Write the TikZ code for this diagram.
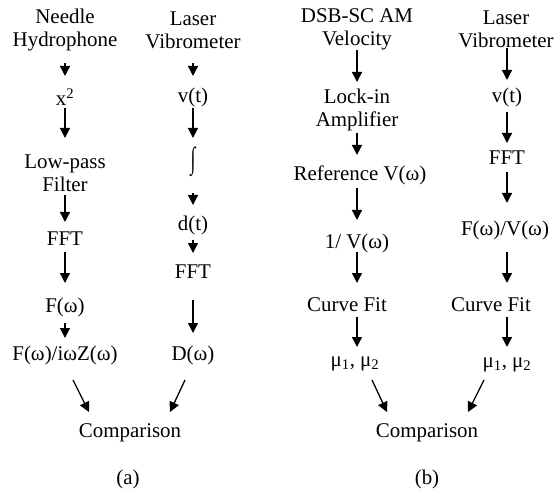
\documentclass[tikz,border=0pt]{standalone}
\usepackage{fontspec}
\usepackage{graphicx}
\setmainfont{Liberation Serif}
\usetikzlibrary{arrows.meta,calc}
\begin{document}
\begin{tikzpicture}[x=1bp,y=-1bp,
  lbl/.style={inner sep=0pt,align=center,font=\fontsize{21}{23}\selectfont},
  arr/.style={line width=1.3bp,-{Triangle[length=10bp,width=10bp]}}]
\useasboundingbox (0,0) rectangle (557,498);
% column reference points
\coordinate (cA) at (65,0);
\coordinate (cB) at (193,0);
\coordinate (cC) at (357,0);
\coordinate (cD) at (507,0);
% panel (a), left column
\node[lbl] (a1) at (65,30) {Needle\\Hydrophone};
\node[lbl] (a2) at (65,97) {x\textsuperscript{2}};
\node[lbl] (a3) at (65,173) {Low-pass\\Filter};
\node[lbl] (a4) at (65,239) {FFT};
\node[lbl] (a5) at (65,307) {F(ω)};
\node[lbl] (a6) at (65,355) {F(ω)/iωZ(ω)};
% panel (a), right column
\node[lbl] (b1) at (193,30) {Laser\\Vibrometer};
\node[lbl] (b2) at (193,97) {v(t)};
\node[lbl] (b3) at (193,162) {\scalebox{0.85}[1.45]{∫}};
\node[lbl] (b4) at (193,225) {d(t)};
\node[lbl] (b5) at (193,272) {FFT};
\node[lbl] (b6) at (193,355) {D(ω)};
\node[lbl] (ca) at (130,433) {Comparison};
\node[lbl] (la) at (128,479) {(a)};
% panel (b), left column
\node[lbl] (c1) at (357,29) {DSB-SC AM\\Velocity};
\node[lbl] (c2) at (357,110) {Lock-in\\Amplifier};
\node[lbl] (c3) at (360,175) {Reference V(ω)};
\node[lbl] (c4) at (357,243) {1/ V(ω)};
\node[lbl] (c5) at (347,305) {Curve Fit};
\node[lbl] (c6) at (355,364) {μ\textsubscript{1}, μ\textsubscript{2}};
% panel (b), right column
\node[lbl] (d1) at (506,29) {Laser\\Vibrometer};
\node[lbl] (d2) at (507,97) {v(t)};
\node[lbl] (d3) at (507,158) {FFT};
\node[lbl] (d4) at (505,230) {F(ω)/V(ω)};
\node[lbl] (d5) at (491,305) {Curve Fit};
\node[lbl] (d6) at (507,365) {μ\textsubscript{1}, μ\textsubscript{2}};
\node[lbl] (cb) at (427,433) {Comparison};
\node[lbl] (lb) at (427,479) {(b)};
% vertical arrows: from node #1 to node #2 along column #3, offsets #4 / #5 from the centres
\newcommand\varr[5]{\draw[arr] ($(#1.center -| #3)+(0,#4)$) -- ($(#2.center -| #3)+(0,#5)$);}
\varr{a1}{a2}{cA}{33}{-21}
\varr{a2}{a3}{cA}{11}{-35}
\varr{a3}{a4}{cA}{22}{-17}
\varr{a4}{a5}{cA}{13}{-24}
\varr{a5}{a6}{cA}{16}{-17}
\varr{b1}{b2}{cB}{33}{-21}
\varr{b2}{b3}{cB}{11}{-24}
\varr{b3}{b4}{cB}{31}{-20}
\varr{b4}{b5}{cB}{15}{-19}
\varr{b5}{b6}{cB}{28}{-22}
\varr{c1}{c2}{cC}{21}{-28}
\varr{c2}{c3}{cC}{23}{-20}
\varr{c3}{c4}{cC}{13}{-23}
\varr{c4}{c5}{cC}{9}{-22}
\varr{c5}{c6}{cC}{12}{-17}
\varr{d1}{d2}{cD}{19}{-17}
\varr{d2}{d3}{cD}{15}{-15}
\varr{d3}{d4}{cD}{14}{-27}
\varr{d4}{d5}{cD}{22}{-22}
\varr{d5}{d6}{cD}{12}{-18}
% diagonal arrows to comparison
\draw[arr] ($(a6.center)+(8,25)$) -- ($(ca.center)+(-41,-21)$);
\draw[arr] ($(b6.center)+(-8,25)$) -- ($(ca.center)+(40,-21)$);
\draw[arr] ($(c6.center)+(17,16)$) -- ($(cb.center)+(-40,-21)$);
\draw[arr] ($(d6.center)+(-23,15)$) -- ($(cb.center)+(41,-21)$);
\end{tikzpicture}
\end{document}
